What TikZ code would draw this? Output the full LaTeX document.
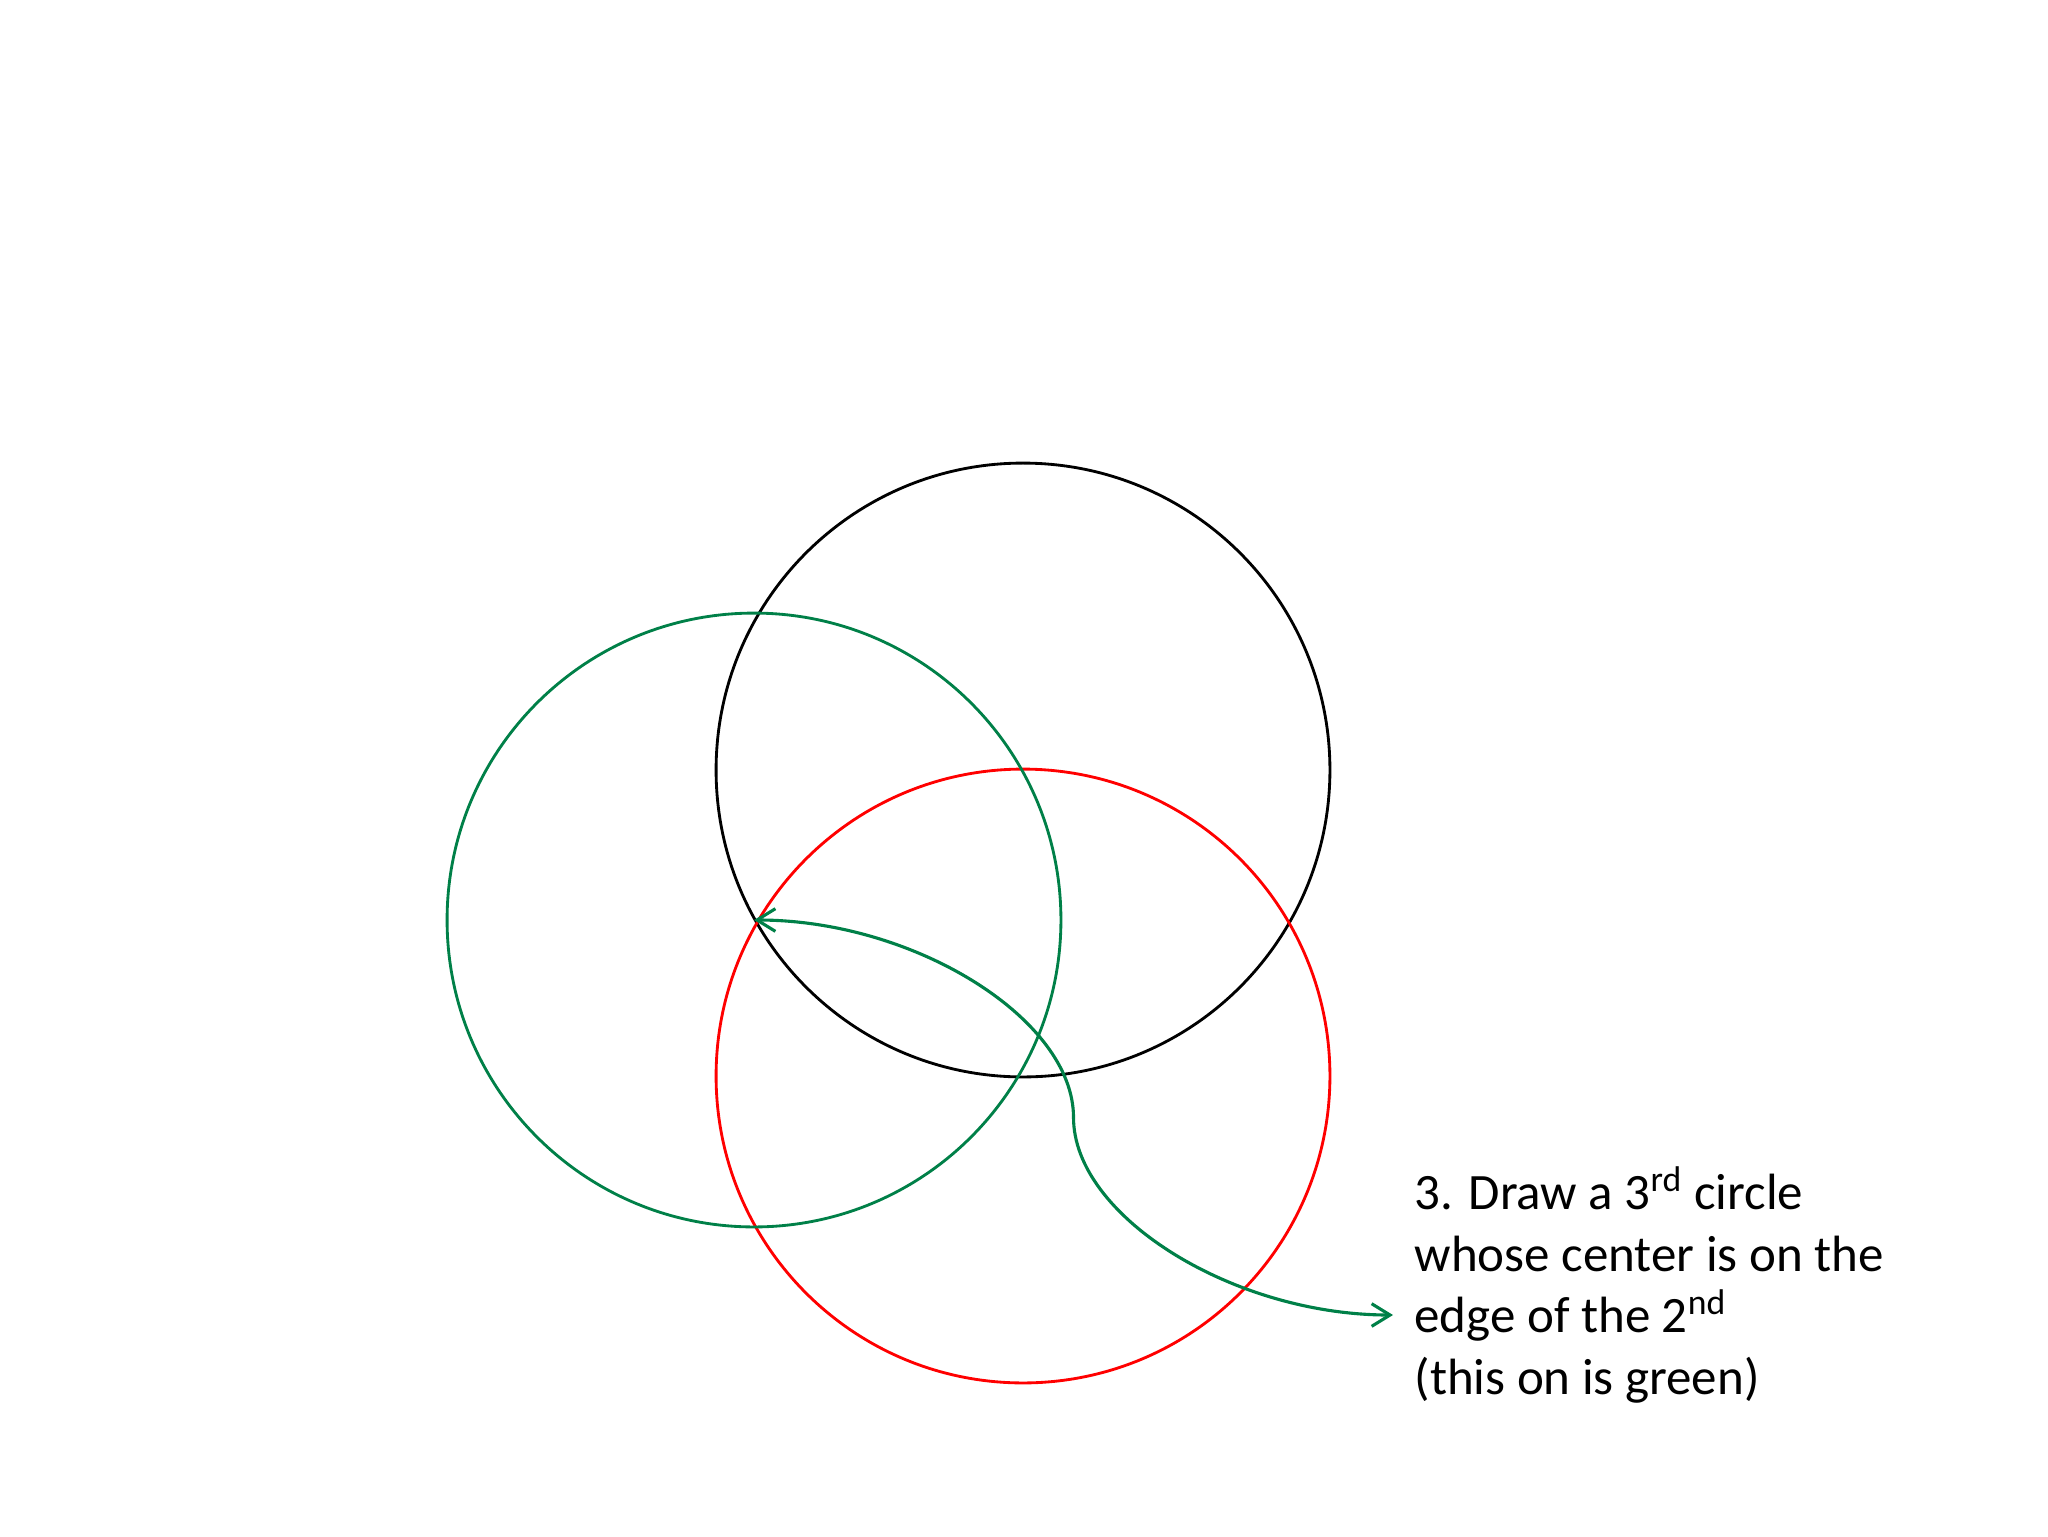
\documentclass[tikz,border=0pt]{standalone}
\usepackage{fontspec}
\setmainfont{Carlito}
\usetikzlibrary{arrows.meta}
\definecolor{cgreen}{RGB}{0,128,72}
\definecolor{cred}{RGB}{255,0,0}
\tikzset{
  ring/.style={circle, draw, line width=1pt, minimum size=7.615cm, inner sep=0pt},
  conn/.style={draw=cgreen, line width=1.1pt, {Straight Barb[length=6.5pt,width=8pt]}-{Straight Barb[length=6.5pt,width=8pt]}},
  txt/.style={anchor=base west, inner sep=0pt, font=\fontsize{18}{21.7}\selectfont}
}
\begin{document}
\begin{tikzpicture}[x=0.0124023cm, y=-0.0124023cm]
\useasboundingbox[fill=white] (0,0) rectangle (2048,1536);
\node[ring, draw=black] (b) at (1023,770) {};
\node[ring, draw=cred] (r) at (1023,1076) {};
\node[ring, draw=cgreen] (g) at (754,920) {};
\node[txt] (l1) at (1414,1209) {3. Draw a 3\textsuperscript{rd} circle};
\node[txt] (l2) at (1414,1271) {whose center is on the};
\node[txt] (l3) at (1414,1332) {edge of the 2\textsuperscript{nd}};
\node[txt] (l4) at (1414,1394) {(this on is green)};
\coordinate (tipend) at (1393,1315);
\draw[conn] (g.center) .. controls (913.75,920) and (1073.5,1018.75) .. (1073.5,1117.5)
  .. controls (1073.5,1216.25) and (1233.25,1315) .. (tipend);
\end{tikzpicture}
\end{document}
